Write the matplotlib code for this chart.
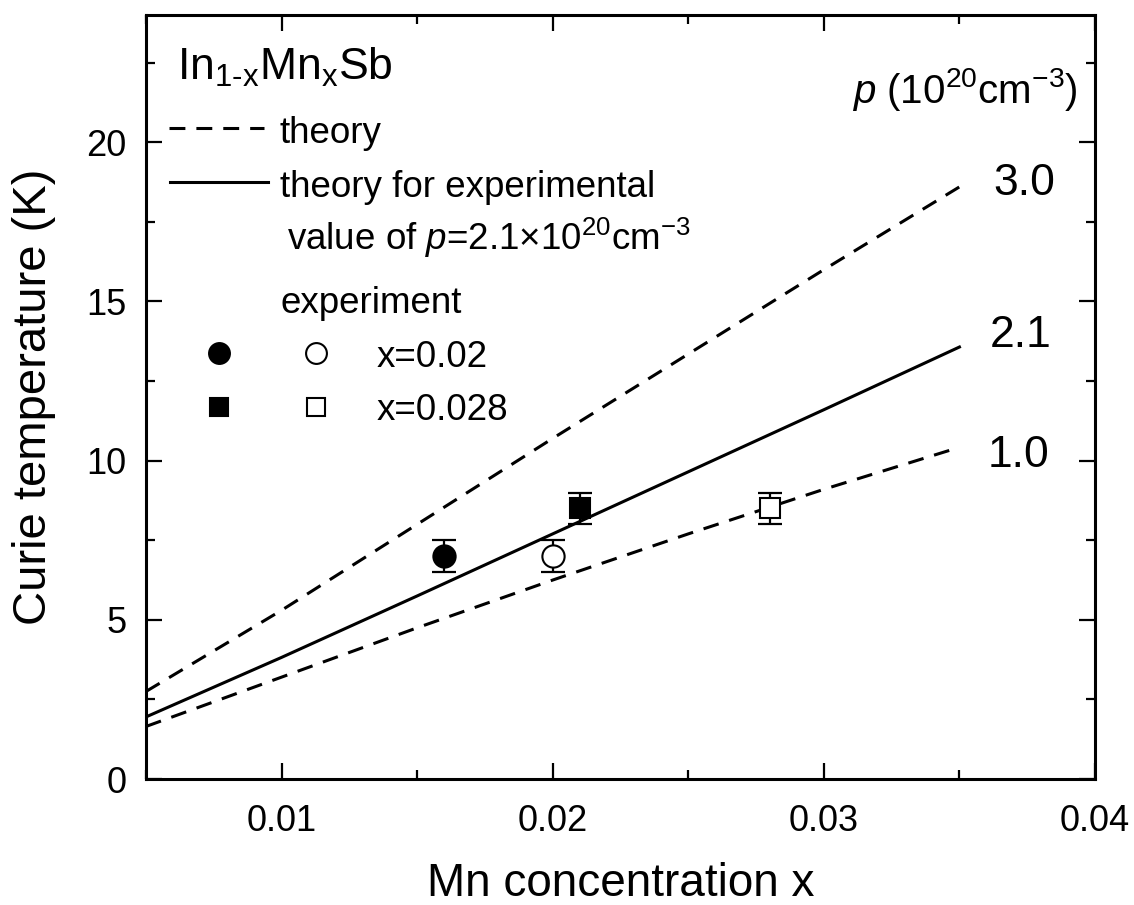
import matplotlib
matplotlib.use("Agg")
import matplotlib.pyplot as plt
from matplotlib.ticker import MultipleLocator

plt.rcParams['font.family'] = ['Liberation Sans', 'DejaVu Sans']
plt.rcParams['mathtext.fontset'] = 'custom'
plt.rcParams['mathtext.rm'] = 'Liberation Sans'
plt.rcParams['mathtext.it'] = 'Liberation Sans:italic'
plt.rcParams['mathtext.bf'] = 'Liberation Sans:bold'

# ---- data ----
x_theory = [0.005, 0.010, 0.015, 0.020, 0.025, 0.030, 0.035]
tc_p30 = [2.75, 5.30, 8.00, 10.70, 13.35, 16.00, 18.60]
tc_p21 = [1.95, 3.82, 5.75, 7.70, 9.65, 11.60, 13.57]
tc_p10 = [1.65, 3.20, 4.75, 6.25, 7.70, 9.10, 10.42]

exp_filled_circle_x = [0.016]
exp_filled_circle_y = [7.0]
exp_open_circle_x = [0.020]
exp_open_circle_y = [7.0]
exp_filled_square_x = [0.021]
exp_filled_square_y = [8.5]
exp_open_square_x = [0.028]
exp_open_square_y = [8.5]
exp_err = [0.5]

xticks = [0.01, 0.02, 0.03, 0.04]
xticklabels = ['0.01', '0.02', '0.03', '0.04']
yticks = [0, 5, 10, 15, 20]
line_labels = ['3.0', '2.1', '1.0']

fig = plt.figure(figsize=(11.34, 9.05), dpi=100)
W, H = 1134, 905
L, R, T, B = 146, 1095, 15, 779
ax = fig.add_axes([L / W, 1 - B / H, (R - L) / W, (B - T) / H])

lw = 2.2
dash = (0, (5.2, 3.6))
ax.plot(x_theory, tc_p30, color='black', lw=lw, linestyle=dash)
ax.plot(x_theory, tc_p21, color='black', lw=lw, linestyle='-')
ax.plot(x_theory, tc_p10, color='black', lw=lw, linestyle=dash)

eb_kw = dict(fmt='none', ecolor='black', elinewidth=1.6, capsize=8.5, capthick=1.6, zorder=3)
for xs, ys in [(exp_filled_circle_x, exp_filled_circle_y), (exp_open_circle_x, exp_open_circle_y),
               (exp_filled_square_x, exp_filled_square_y), (exp_open_square_x, exp_open_square_y)]:
    ax.errorbar(xs, ys, yerr=exp_err, **eb_kw)

ax.plot(exp_filled_circle_x, exp_filled_circle_y, 'o', ms=16, mfc='black', mec='black', mew=1.5, zorder=4)
ax.plot(exp_open_circle_x, exp_open_circle_y, 'o', ms=16, mfc='white', mec='black', mew=1.5, zorder=4)
ax.plot(exp_filled_square_x, exp_filled_square_y, 's', ms=14.5, mfc='black', mec='black', mew=1.5, zorder=4)
ax.plot(exp_open_square_x, exp_open_square_y, 's', ms=14.5, mfc='white', mec='black', mew=1.5, zorder=4)

ax.set_xlim(0.005, 0.04)
ax.set_ylim(0, 24)
ax.set_xticks(xticks)
ax.set_xticklabels(xticklabels)
ax.set_yticks(yticks)
ax.xaxis.set_minor_locator(MultipleLocator(0.005))
ax.yaxis.set_minor_locator(MultipleLocator(2.5))
ax.tick_params(which='both', direction='in', top=True, right=True, labelsize=26)
ax.tick_params(axis='x', which='both', pad=18)
ax.tick_params(axis='y', which='both', pad=14)
ax.tick_params(which='major', length=11.5, width=1.6)
ax.tick_params(which='minor', length=6.5, width=1.6)
for s in ax.spines.values():
    s.set_linewidth(2.2)

tr = ax.transAxes
def fx(px):
    return (px - L) / (R - L)
def fy(py):
    return (B - py) / (B - T)

ax.set_xlabel('Mn concentration x', fontsize=33)
ax.xaxis.set_label_coords(0.5, fy(896))
ax.xaxis.label.set_va('baseline')
ax.set_ylabel('Curie temperature (K)', fontsize=34, labelpad=22)

fs = 26.5
ax.text(fx(177), fy(80), r'In$_{\mathregular{1\text{-}x}}$Mn$_{\mathregular{x}}$Sb', transform=tr,
        fontsize=32, va='baseline', ha='left')
ax.plot([fx(169), fx(264)], [fy(128)] * 2, transform=tr, color='black', lw=lw, linestyle=dash)
ax.text(fx(280), fy(143), 'theory', transform=tr, fontsize=fs, va='baseline')
ax.plot([fx(170), fx(268)], [fy(182)] * 2, transform=tr, color='black', lw=lw)
ax.text(fx(280), fy(197), 'theory for experimental', transform=tr, fontsize=fs, va='baseline')
ax.text(fx(287), fy(250), r'value of $\it{p}$=2.1$\times$10$^{20}$cm$^{\mathregular{-3}}$', transform=tr,
        fontsize=fs, va='baseline')
ax.text(fx(280), fy(313), 'experiment', transform=tr, fontsize=fs, va='baseline')
ax.plot([fx(219)], [fy(353)], 'o', transform=tr, ms=15, mfc='black', mec='black', mew=1.5, clip_on=False)
ax.plot([fx(316)], [fy(353)], 'o', transform=tr, ms=15, mfc='white', mec='black', mew=1.5, clip_on=False)
ax.text(fx(377), fy(367), 'x=0.02', transform=tr, fontsize=fs, va='baseline')
ax.plot([fx(219)], [fy(407)], 's', transform=tr, ms=13, mfc='black', mec='black', mew=1.5, clip_on=False)
ax.plot([fx(316)], [fy(407)], 's', transform=tr, ms=13, mfc='white', mec='black', mew=1.5, clip_on=False)
ax.text(fx(377), fy(420), 'x=0.028', transform=tr, fontsize=fs, va='baseline')

ax.text(fx(1078), fy(103), r'$\it{p}$ (10$^{20}$cm$^{\mathregular{-3}}$)', transform=tr,
        fontsize=29, va='baseline', ha='right')
for lab, px, py in zip(line_labels, [993, 990, 988], [195, 347, 467]):
    ax.text(fx(px), fy(py), lab, transform=tr, fontsize=32, va='baseline', ha='left')

fig.savefig('out.png', dpi=100)
